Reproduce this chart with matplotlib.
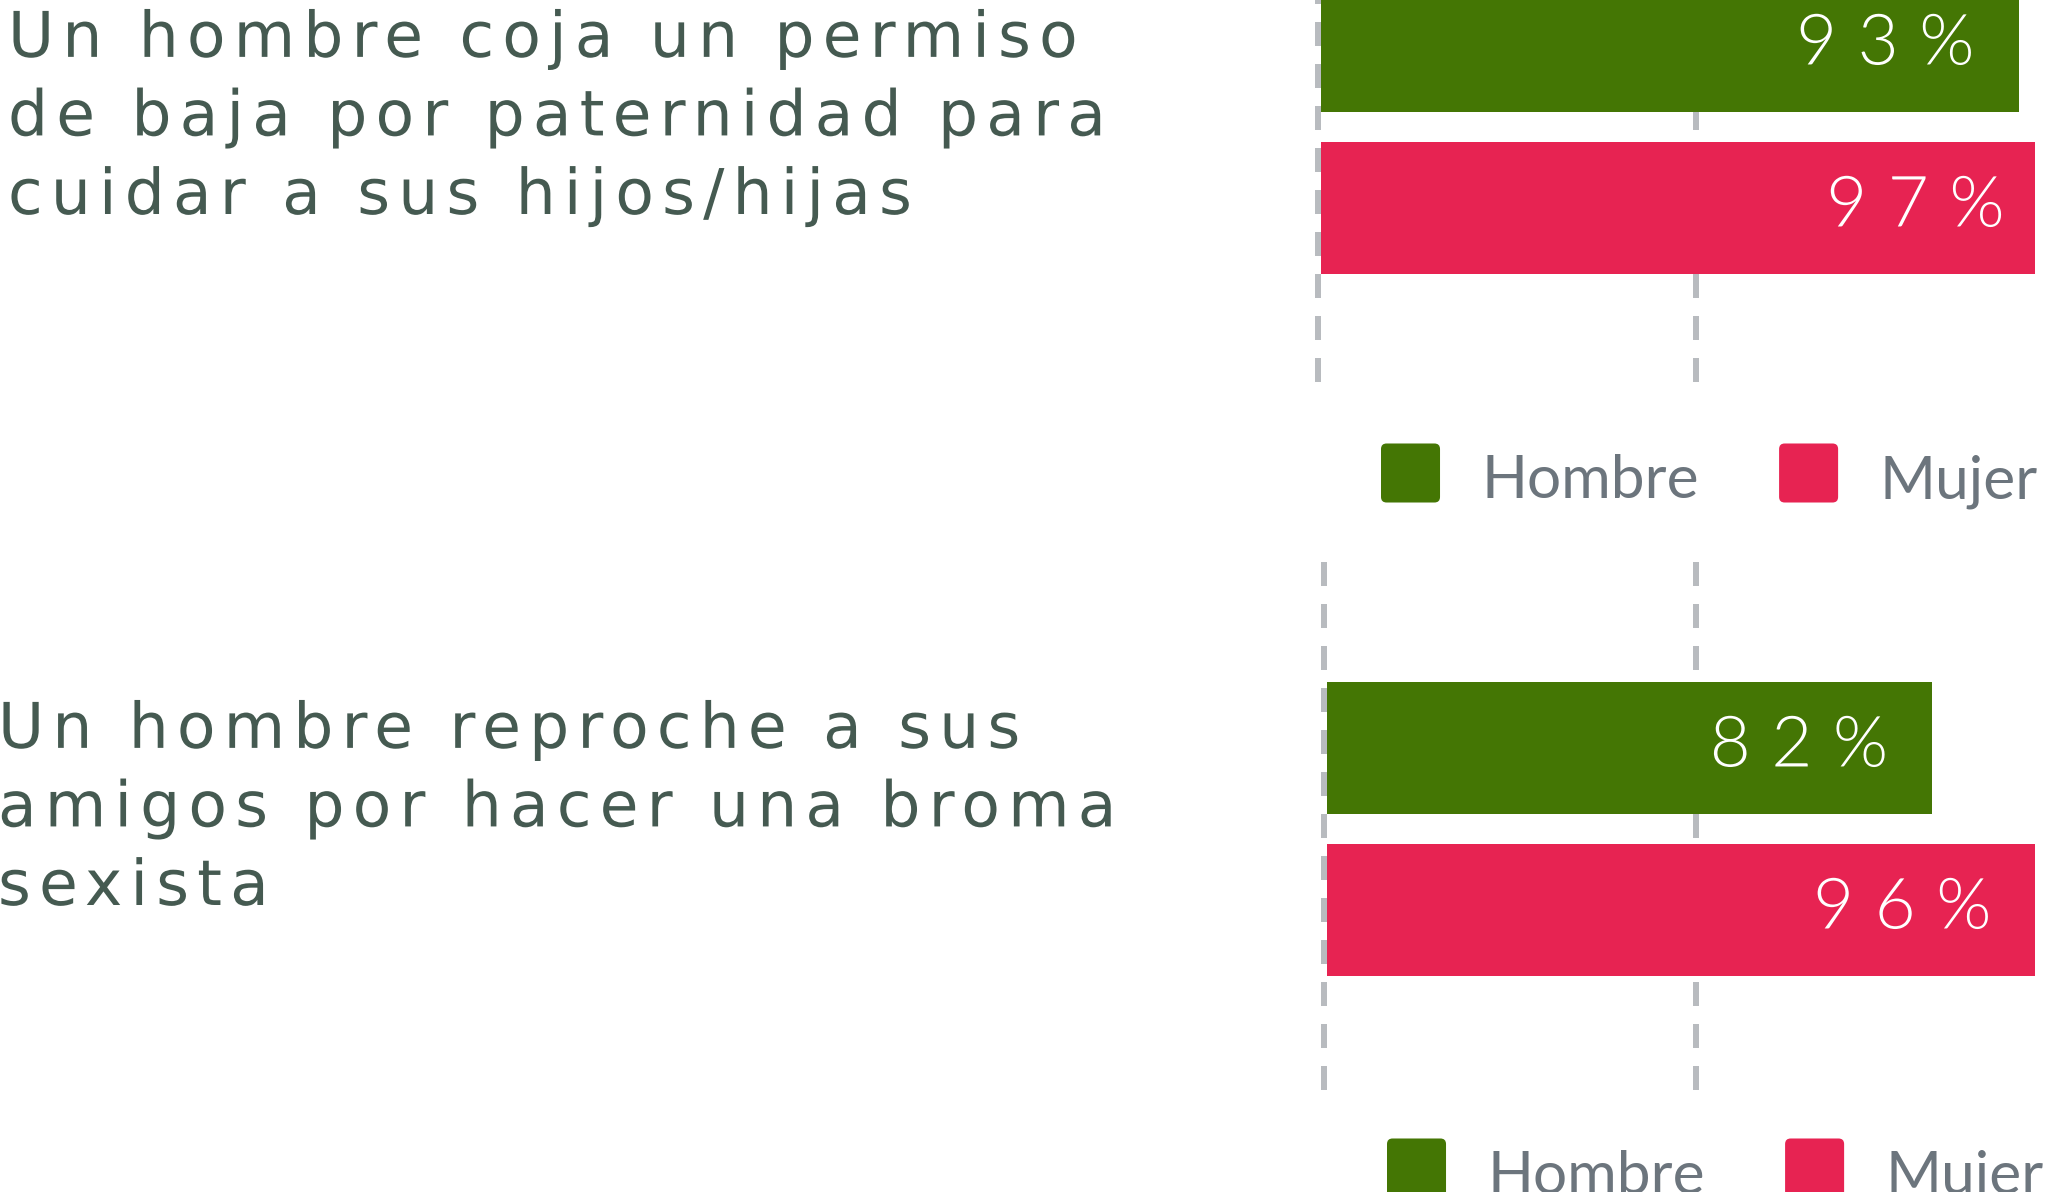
import os
import matplotlib
matplotlib.use("Agg")
import numpy as np
import matplotlib.pyplot as plt
from matplotlib import font_manager as fm
from matplotlib.patches import FancyBboxPatch
from matplotlib.legend_handler import HandlerPatch, update_from_first_child
from matplotlib.container import BarContainer
from matplotlib.patheffects import AbstractPathEffect
from matplotlib.path import Path
from matplotlib.transforms import ScaledTranslation
from matplotlib.font_manager import FontProperties

# ---------------- data ----------------
categories = [
    "Un hombre coja un permiso\nde baja por paternidad para\ncuidar a sus hijos/hijas",
    "Un hombre reproche a sus\namigos por hacer una broma\nsexista",
]
series_names = ["Hombre", "Mujer"]
hombre = [93, 82]
mujer = [97, 96]
grid_ticks = [0, 50]

# ---------------- style ----------------
GREEN = "#447604"
PINK = "#e72352"
TEXT = "#455a51"
LEGEND_TEXT = "#6c757d"
GRID = "#b8bbbf"

W, H = 2050, 1192


def find_font(name, key):
    cands = []
    for f in fm.fontManager.ttflist:
        base = os.path.basename(f.fname).lower()
        if f.name == name and key in base and "italic" not in base:
            cands.append(f.fname)
    cands.sort(key=lambda s: len(os.path.basename(s)))
    return cands[0] if cands else None


_light = find_font("Lato", "light")
if _light:
    num_prop = FontProperties(fname=_light, size=51)
else:
    num_prop = FontProperties(family=["Lato", "DejaVu Sans"], size=51)


class LetterSpacing(AbstractPathEffect):
    """Add a constant gap between glyphs (like CSS letter-spacing).

    spacing is a fraction of the em; text paths are built at an em of 100 units.
    """

    def __init__(self, spacing, anchor="left", space_gap=22.0, tol=2.0):
        super().__init__()
        self.sp = spacing * 100.0
        self.anchor = anchor
        self.space_gap = space_gap
        self.tol = tol

    def draw_path(self, renderer, gc, tpath, affine, rgbFace=None):
        codes = tpath.codes
        verts = np.array(tpath.vertices, dtype=float).copy()
        if codes is None or len(verts) == 0:
            renderer.draw_path(gc, tpath, affine, rgbFace)
            return
        codes = np.asarray(codes)
        valid = codes != Path.CLOSEPOLY
        starts = sorted(set([0] + list(np.flatnonzero(codes == Path.MOVETO))))
        bounds = starts + [len(verts)]
        contours = []
        for a, b in zip(bounds[:-1], bounds[1:]):
            m = valid[a:b]
            if not m.any():
                continue
            seg = verts[a:b, 0][m]
            contours.append((a, b, seg.min(), seg.max()))
        if not contours:
            renderer.draw_path(gc, tpath, affine, rgbFace)
            return
        order = sorted(range(len(contours)), key=lambda i: contours[i][2])
        groups = []
        for i in order:
            _, _, x0, x1 = contours[i]
            if groups and x0 < groups[-1][1] - self.tol:
                groups[-1][1] = max(groups[-1][1], x1)
                groups[-1][2].append(i)
            else:
                groups.append([x0, x1, [i]])
        shift = 0.0
        shifts = []
        for gi, g in enumerate(groups):
            if gi > 0:
                shift += self.sp
                if g[0] - groups[gi - 1][1] > self.space_gap:
                    shift += self.sp
            shifts.append(shift)
        if self.anchor == "right":
            last = shifts[-1]
            shifts = [s - last for s in shifts]
        for g, s in zip(groups, shifts):
            for i in g[2]:
                a, b = contours[i][0], contours[i][1]
                verts[a:b, 0] += s
        renderer.draw_path(gc, Path(verts, codes), affine, rgbFace)


def rounded_patch(legend, orig_handle, xdescent, ydescent, width, height, fontsize):
    return FancyBboxPatch((-xdescent, -ydescent + 3.6), width, height,
                          boxstyle="round,pad=0,rounding_size=4")


handler = HandlerPatch(patch_func=rounded_patch, update_func=update_from_first_child)

fig = plt.figure(figsize=(W / 100, H / 100), dpi=100)
fig.patch.set_facecolor("white")

# panel layout in pixels
panels = [
    dict(x0=1321, ppu=7.5, xmax=95.2, top=-140, bottom=382, ybot=2.074,
         text_xy=(8, 214), legend_xy=(1381, 509)),
    dict(x0=1327, ppu=7.38, xmax=95.9, top=562, bottom=1090, ybot=2.111,
         text_xy=(-2, 905), legend_xy=(1387, 1204)),
]

for i, p in enumerate(panels):
    width_px = p["xmax"] * p["ppu"]
    ax = fig.add_axes([p["x0"] / W, (H - p["bottom"]) / H,
                       width_px / W, (p["bottom"] - p["top"]) / H])
    ax.patch.set_visible(False)
    for s in ax.spines.values():
        s.set_visible(False)
    ax.set_xlim(0, p["xmax"])
    ax.set_ylim(p["ybot"], -1.148)
    ax.set_xticks([])
    ax.set_yticks([])

    # dashed grid lines; the zero line sits just left of the bars
    for gx in grid_ticks:
        ln = ax.axvline(gx, color=GRID, linewidth=4.32, linestyle=(0, (4.0, 3.0)),
                        zorder=1, clip_on=False)
        off = ScaledTranslation(-3 / 100 if gx == 0 else 0, 0, fig.dpi_scale_trans)
        ln.set_transform(ax.get_xaxis_transform() + off)

    vals = [hombre[i], mujer[i]]
    cols = [GREEN, PINK]
    bars = []
    for j, (v, c, name) in enumerate(zip(vals, cols, series_names)):
        b = ax.barh([j], [v], height=0.82, color=c, linewidth=0, label=name, zorder=2)
        bars.append(b)
        ax.annotate(f"{v}%", xy=(v, j), xytext=(-31.7, -13.3),
                    textcoords="offset points", ha="right", va="baseline",
                    fontproperties=num_prop,
                    color="white", zorder=3, annotation_clip=False,
                    path_effects=[LetterSpacing(0.29, "right")])

    lx, ly = p["legend_xy"]
    ax.legend(handles=bars, labels=series_names, loc="lower left",
              bbox_to_anchor=(lx / W, (H - ly) / H), bbox_transform=fig.transFigure,
              frameon=False, prop=FontProperties(family=["Lato", "DejaVu Sans"], size=43.5),
              labelcolor=LEGEND_TEXT, handlelength=0.977, handleheight=1.126,
              handletextpad=0.69, columnspacing=1.32, ncol=2, borderpad=0,
              borderaxespad=0, handler_map={BarContainer: handler})

    tx, ty = p["text_xy"]
    fig.text(tx / W, (H - ty) / H, categories[i], ha="left", va="baseline",
             fontsize=45.4, family=["DejaVu Sans"], color=TEXT, linespacing=1.395,
             path_effects=[LetterSpacing(0.13, "left")])

fig.savefig("out.png", dpi=100, facecolor="white")
